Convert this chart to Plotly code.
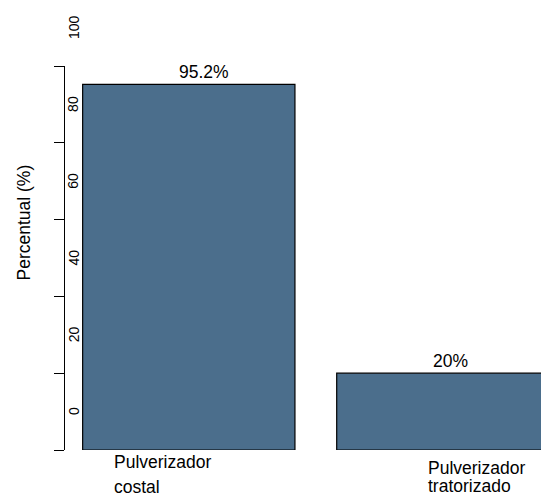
import plotly.graph_objects as go

# ---- data ----
categories = ["Pulverizador costal", "Pulverizador tratorizado"]
values = [95.2, 20]
value_labels = ["95.2%", "20%"]
tick_values = [0, 20, 40, 60, 80, 100]
tick_labels = ["0", "20", "40", "60", "80", "100"]
y_title = "Percentual (%)"

# ---- layout constants ----
W, H = 541, 496
FONT = "Liberation Sans, Arial, sans-serif"
BAR_COLOR = "#4b6e8c"
px_per_x = 254.05
bar_center0_px = 188.8
base_px, top_px = 450, 66
bar_width = 212.3 / px_per_x
axis_pos_px = 64
ticklabel_px = 73.5
ticklabel_offset = 10  # labels drawn half a step above their ticks
value_xshift = [15, 8]
cat_xoff_px = [-76, -16]
cat_line_yshift = [[-12, -37], [-18, -36]]
TXT = 17.5

dom0, dom1 = (H - base_px) / H, (H - top_px) / H
YMAX = 100.0


def y_to_paper(v):
    return dom0 + v / YMAX * (dom1 - dom0)


x_pos = list(range(len(categories)))

fig = go.Figure()
fig.add_trace(go.Bar(
    x=x_pos, y=values, width=bar_width,
    marker=dict(color=BAR_COLOR, line=dict(color="black", width=1.2)),
    hoverinfo="skip", showlegend=False,
))

annotations = []
# value labels
for i, (v, t) in enumerate(zip(values, value_labels)):
    annotations.append(dict(x=x_pos[i], y=y_to_paper(v), xref="x", yref="paper",
                            text=t, showarrow=False, yanchor="middle", yshift=12,
                            xshift=value_xshift[i],
                            font=dict(family=FONT, size=TXT, color="black")))
# category labels (left aligned, two lines)
for i, c in enumerate(categories):
    first, second = c.split(" ", 1)
    for line, ys in zip([first, second], cat_line_yshift[i]):
        annotations.append(dict(x=x_pos[i] + cat_xoff_px[i] / px_per_x,
                                y=y_to_paper(0), xref="x", yref="paper",
                                text=line, showarrow=False, borderpad=0,
                                xanchor="left", yanchor="middle", yshift=ys,
                                font=dict(family=FONT, size=TXT, color="black")))
# tick labels (offset above ticks, rotated)
for v, t in zip(tick_values, tick_labels):
    annotations.append(dict(x=ticklabel_px / W, y=y_to_paper(v + ticklabel_offset),
                            xref="paper", yref="paper", text=t, showarrow=False,
                            textangle=-90, xanchor="center", yanchor="middle",
                            font=dict(family=FONT, size=14, color="black")))
# y title
annotations.append(dict(x=23 / W, y=1 - 222.5 / H, xref="paper", yref="paper",
                        text=y_title, showarrow=False, textangle=-90,
                        xanchor="center", yanchor="middle",
                        font=dict(family=FONT, size=TXT, color="black")))

fig.update_layout(
    width=W, height=H, autosize=False,
    margin=dict(l=0, r=0, t=0, b=0, pad=0),
    paper_bgcolor="white", plot_bgcolor="white",
    xaxis=dict(range=[-bar_center0_px / px_per_x, (W - bar_center0_px) / px_per_x],
               visible=False, fixedrange=True),
    yaxis=dict(domain=[dom0, dom1], range=[0, YMAX],
               anchor="free", position=axis_pos_px / W, side="left",
               showline=True, linecolor="black", linewidth=1,
               ticks="outside", ticklen=10, tickcolor="black", tickwidth=1,
               tickvals=tick_values, showticklabels=False,
               showgrid=False, zeroline=False, fixedrange=True),
    annotations=annotations,
    showlegend=False,
)

fig.write_html("out.html", config={"displayModeBar": False},
               post_script="document.body.style.margin='0';document.body.style.overflow='hidden';")
